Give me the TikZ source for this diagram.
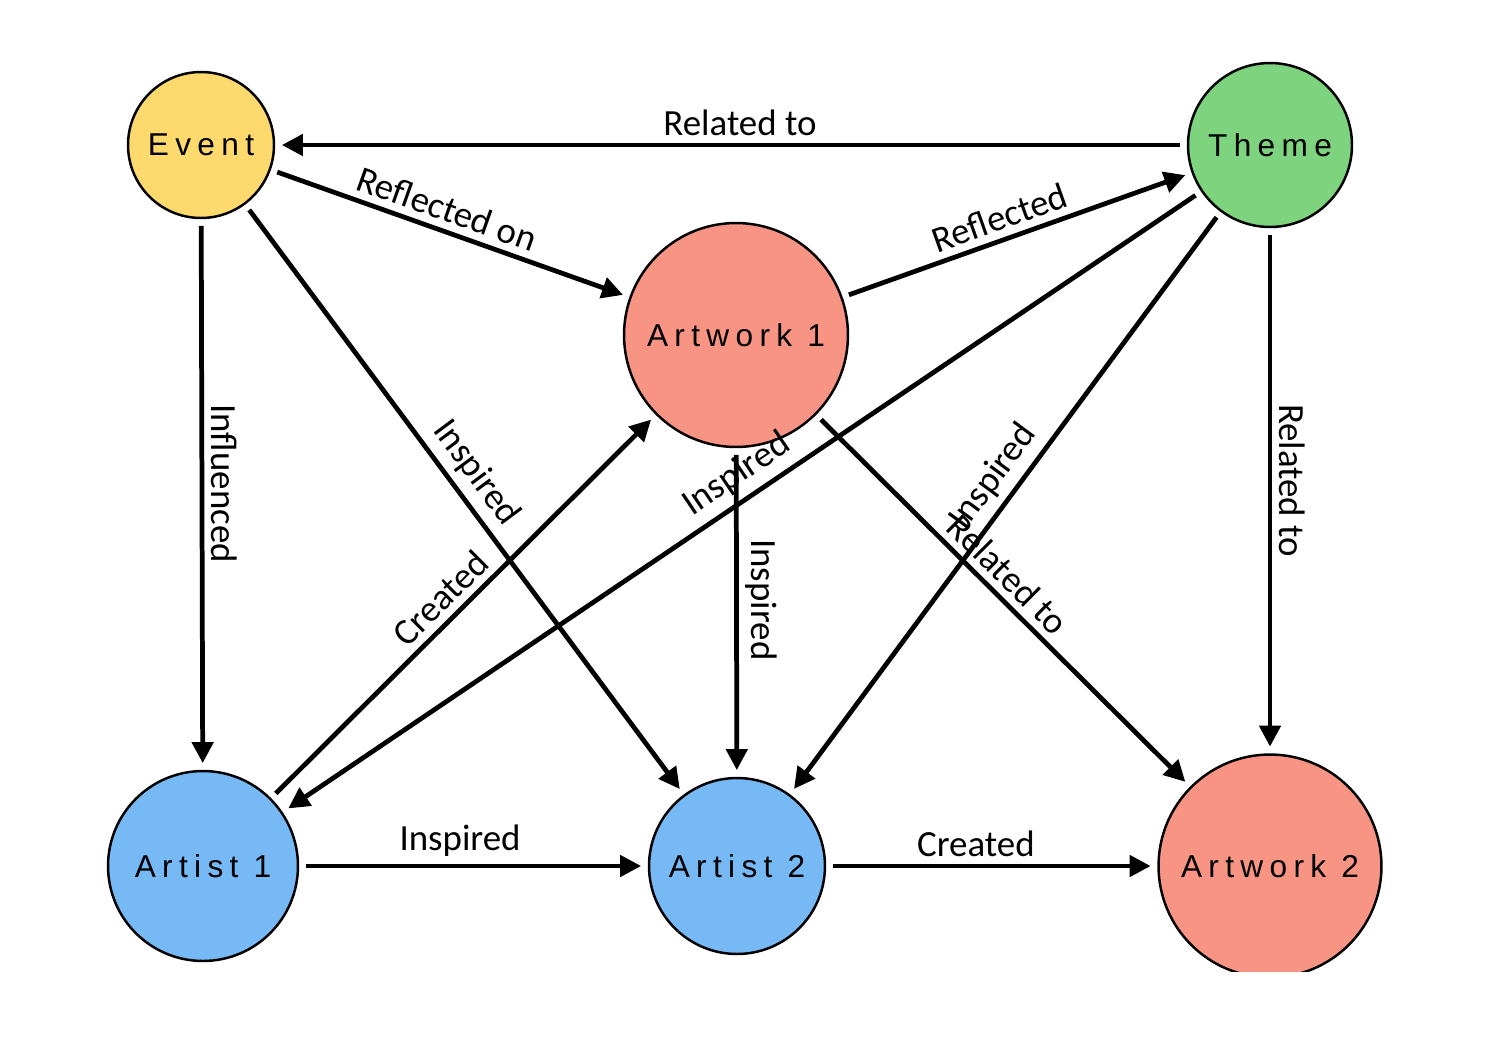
\documentclass[tikz,border=0pt]{standalone}
\usepackage{fontspec}
\usepackage{tikz}
\usetikzlibrary{arrows.meta, positioning}
\newfontfamily\nodefont[LetterSpace=20]{Liberation Sans}
\newfontfamily\edgefont{Carlito}
\definecolor{eventfill}{RGB}{253,217,110}
\definecolor{themefill}{RGB}{126,211,127}
\definecolor{artworkfill}{RGB}{247,148,131}
\definecolor{artistfill}{RGB}{118,185,245}
\tikzset{
  ent/.style={circle, draw, line width=1.4pt, inner sep=0pt, outer sep=4.5pt,
              font=\nodefont\fontsize{18pt}{20pt}\selectfont},
  event/.style={ent, fill=eventfill},
  theme/.style={ent, fill=themefill},
  artwork/.style={ent, fill=artworkfill},
  artist/.style={ent, fill=artistfill},
  rel/.style={-{Triangle[length=12pt, width=12pt]}, line width=2.7pt},
  lbl/.style={font=\edgefont\fontsize{21pt}{24pt}\selectfont, sloped, above, inner sep=4pt},
}
\begin{document}
\begin{tikzpicture}[x=0.02cm, y=-0.02cm]
  \useasboundingbox (0,0) rectangle (1488,1052);
  \begin{scope}
  \clip (0,0) rectangle (1488,971);
  \node[event, minimum size=2.92cm] (event) at (201,145) {Event};
  \node[theme, minimum size=3.28cm] (theme) at (1270,145) {Theme};
  \node[artwork, minimum size=4.48cm] (art1) at (736,335) {Artwork 1};
  \node[artist, minimum size=3.8cm] (artist1) at (203,866) {Artist 1};
  \node[artist, minimum size=3.52cm] (artist2) at (737,866) {Artist 2};
  \node[artwork, minimum size=4.46cm] (art2) at (1270,866) {Artwork 2};

  \draw[rel] (theme) -- node[lbl, pos=0.49] {Related to} (event);
  \draw[rel] (event) -- node[lbl, pos=0.47] {Reflected on} (art1);
  \draw[rel] (art1) -- node[lbl, pos=0.47] {Reflected} (theme);
  \draw[rel] (event) -- node[lbl, pos=0.48] {Influenced} (artist1);
  \draw[rel] (event) -- node[lbl, pos=0.48] {Inspired} (artist2);
  \draw[rel] (artist1) -- node[lbl, pos=0.48] {Created} (art1);
  \draw[rel] (theme) -- node[lbl, pos=0.49] {Inspired} (artist1);
  \draw[rel] (art1) -- node[lbl, pos=0.46] {Inspired} (artist2);
  \draw[rel] (theme) -- node[lbl, pos=0.48] {Inspired} (artist2);
  \draw[rel] (art1) -- node[lbl, pos=0.47] {Related to} (art2);
  \draw[rel] (theme) -- node[lbl, pos=0.48] {Related to} (art2);
  \draw[rel] (artist1) -- node[lbl, pos=0.46] {Inspired} (artist2);
  \draw[rel] (artist2) -- node[lbl, pos=0.45] {Created} (art2);
  \end{scope}
\end{tikzpicture}
\end{document}
